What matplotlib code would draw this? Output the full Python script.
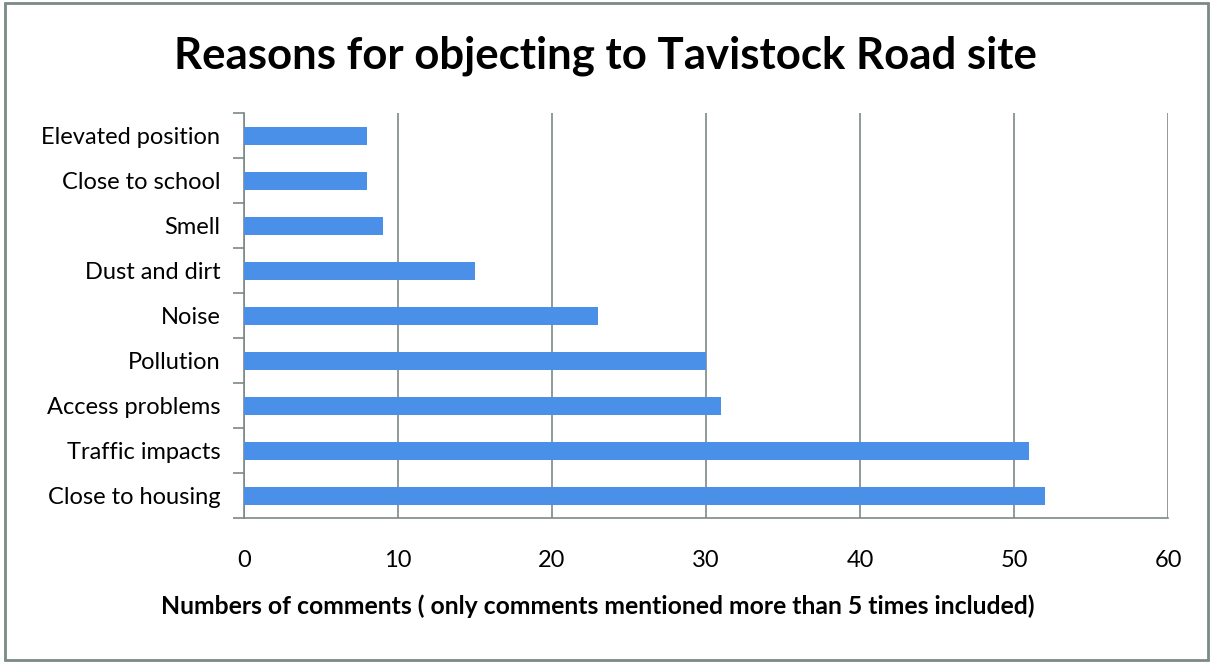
import numpy as np
import matplotlib.pyplot as plt
from matplotlib.patches import Rectangle

# reasons listed bottom to top
reasons = ['Close to housing', 'Traffic impacts', 'Access problems', 'Pollution',
           'Noise', 'Dust and dirt', 'Smell', 'Close to school', 'Elevated position']
counts = [52, 51, 31, 30, 23, 15, 9, 8, 8]
xticks = [0, 10, 20, 30, 40, 50, 60]

grey = '#7b8987'
bar_col = '#4a8fe8'

plt.rcParams['font.family'] = ['Lato', 'DejaVu Sans']

fig = plt.figure(figsize=(12.11, 6.62), dpi=100)
ax = fig.add_axes([244 / 1211, 1 - 518 / 662, (1168 - 244) / 1211, (518 - 113) / 662])

y = np.arange(len(reasons))
ax.barh(y, counts, height=0.4, color=bar_col, zorder=3)

ax.set_xlim(0, 60)
ax.set_ylim(-0.5, len(reasons) - 0.5)
ax.set_xticks(xticks)
ax.set_xticklabels([str(v) for v in xticks], fontsize=17)
ax.set_yticks(y)
ax.set_yticklabels(reasons, fontsize=17)
ax.tick_params(axis='y', length=0, pad=17)
ax.tick_params(axis='x', length=0, pad=23)

# category separators on the left axis
ax.set_yticks(np.arange(-0.5, len(reasons)), minor=True)
ax.tick_params(axis='y', which='minor', length=8, color=grey, width=1.2)
ax.set_xticks(xticks, minor=True)
ax.tick_params(axis='x', which='minor', length=8, color=grey, width=1.2)

ax.grid(axis='x', color=grey, linewidth=1.2, zorder=0)
for side in ['top', 'right']:
    ax.spines[side].set_visible(False)
for side in ['left', 'bottom']:
    ax.spines[side].set_color(grey)
    ax.spines[side].set_linewidth(1.2)

# axis title sits centred on the whole chart, not the plot area
fig.text(598 / 1211, 1 - 606 / 662,
         'Numbers of comments ( only comments mentioned more than 5 times included)',
         ha='center', va='center', fontsize=17.8, fontweight='bold')
fig.text(0.5, 1 - 56 / 662, 'Reasons for objecting to Tavistock Road site',
         ha='center', va='center', fontsize=31.5, fontweight='bold')

# outer frame of the chart
fig.patches.append(Rectangle((5 / 1211, 2 / 662), 1203 / 1211, 657 / 662,
                             transform=fig.transFigure, fill=False,
                             edgecolor=grey, linewidth=2))

fig.savefig('out.png', dpi=100)
